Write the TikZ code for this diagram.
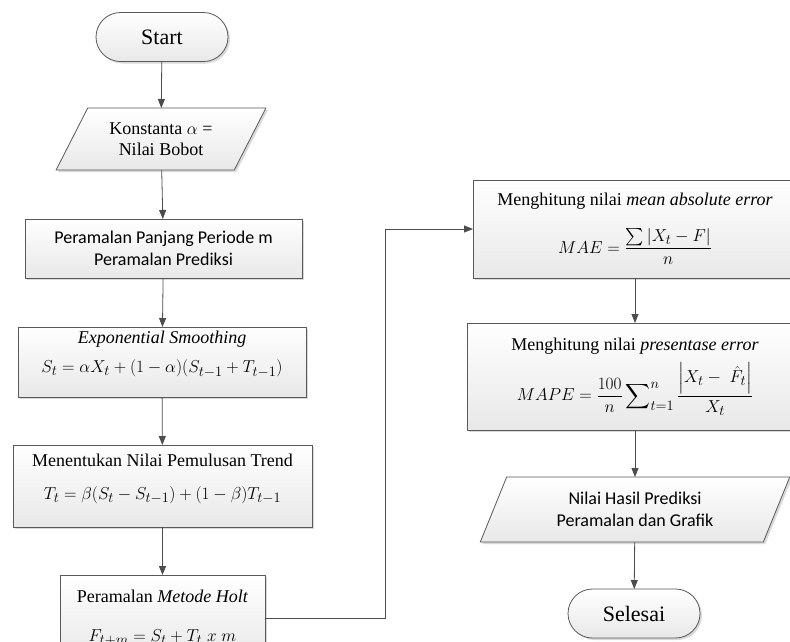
\documentclass[tikz,border=0pt]{standalone}
\usepackage{amsmath}
\usepackage{fontspec}
\setmainfont{Liberation Serif}
\newfontfamily\boxsans{Carlito}
\usetikzlibrary{arrows.meta,shapes.geometric,shapes.misc,shadows}
\colorlet{step border color}{black!65}
\colorlet{step line color}{black!70}
\newcommand{\formula}[1]{{\fontsize{19}{23}\selectfont$\displaystyle #1$}}
\tikzset{
    x={1pt},
    y={-1pt},
    step shape/.style={
        draw=step border color,
        line width={0.8pt},
        top color=white,
        bottom color=black!9,
        drop shadow={shadow xshift=2pt, shadow yshift=-2pt, opacity=0.3},
        align=center,
        font={\fontsize{18}{21}\selectfont},
        inner sep=0pt,
        outer sep=0pt,
    },
    process/.style 2 args={
        step shape, rectangle,
        minimum width={#1},
        minimum height={#2},
    },
    terminal/.style={
        step shape, rounded rectangle,
        minimum width={132},
        minimum height={49},
        font={\fontsize{22}{25}\selectfont},
    },
    data/.style n args={3}{
        step shape, trapezium,
        trapezium stretches=true,
        trapezium left angle={#1},
        trapezium right angle={180-#1},
        minimum width={#2},
        minimum height={#3},
    },
    flow/.style={
        draw=step line color,
        line width={0.8pt},
        -{Triangle[length=9pt,width=7pt]},
    },
}

\begin{document}
\begin{tikzpicture}
\useasboundingbox (0,0) rectangle (790,641);
\clip (0,0) rectangle (790,641);
% left column
\node[terminal] (start) at (162,37) {Start};
\node[data={56}{210}{62}] (konstanta) at (161,139) {Konstanta $\alpha$ =\\Nilai Bobot};
\node[process={277}{59}, font={\boxsans\fontsize{18}{22}\selectfont}] (periode) at (163.5,248.5) {Peramalan Panjang Periode m\\Peramalan Prediksi};
\node[process={288}{70}, text depth=20pt] (smoothing) at (162,362) {\textit{Exponential Smoothing}\\[8pt]\formula{S_t = \alpha X_t + (1-\alpha)(S_{t-1} + T_{t-1})}};
\node[process={299}{82}, text depth=19pt] (trend) at (162.5,486) {Menentukan Nilai Pemulusan Trend\\[12pt]\formula{T_t = \beta(S_t - S_{t-1}) + (1-\beta)T_{t-1}}};
\node[process={205}{86}] (holt) at (162.5,618) {Peramalan \textit{Metode Holt}\\[18pt]\formula{F_{t+m} = S_t + T_t\;x\;m}};
% right column
\node[process={324}{98}] (mae) at (635,229) {Menghitung nilai \textit{mean absolute error}\\[18pt]\formula{MAE = \frac{\sum|X_t - F|}{n}}};
\node[process={336}{107}] (mape) at (635,376.5) {Menghitung nilai \textit{presentase error}\\[8pt]\formula{MAPE = \frac{100}{n}\sum\nolimits_{t=1}^{n}\frac{\left|X_t -\ \hat{F}_t\right|}{X_t}}};
\node[data={65}{310}{65}, font={\boxsans\fontsize{18}{22}\selectfont}] (hasil) at (635,509.5) {Nilai Hasil Prediksi\\Peramalan dan Grafik};
\node[terminal] (selesai) at (634,613.5) {Selesai};
% connectors
\coordinate (turn) at (385,400);
\draw[flow] (start) -- (konstanta);
\draw[flow] (konstanta) -- (periode);
\draw[flow] (periode) -- (smoothing);
\draw[flow] (smoothing) -- (trend);
\draw[flow] (trend) -- (holt);
\draw[flow] (holt.east) -| (turn |- mae.west) -- (mae.west);
\draw[flow] (mae) -- (mape);
\draw[flow] (mape) -- (hasil);
\draw[flow] (hasil) -- (selesai);
\end{tikzpicture}
\end{document}
